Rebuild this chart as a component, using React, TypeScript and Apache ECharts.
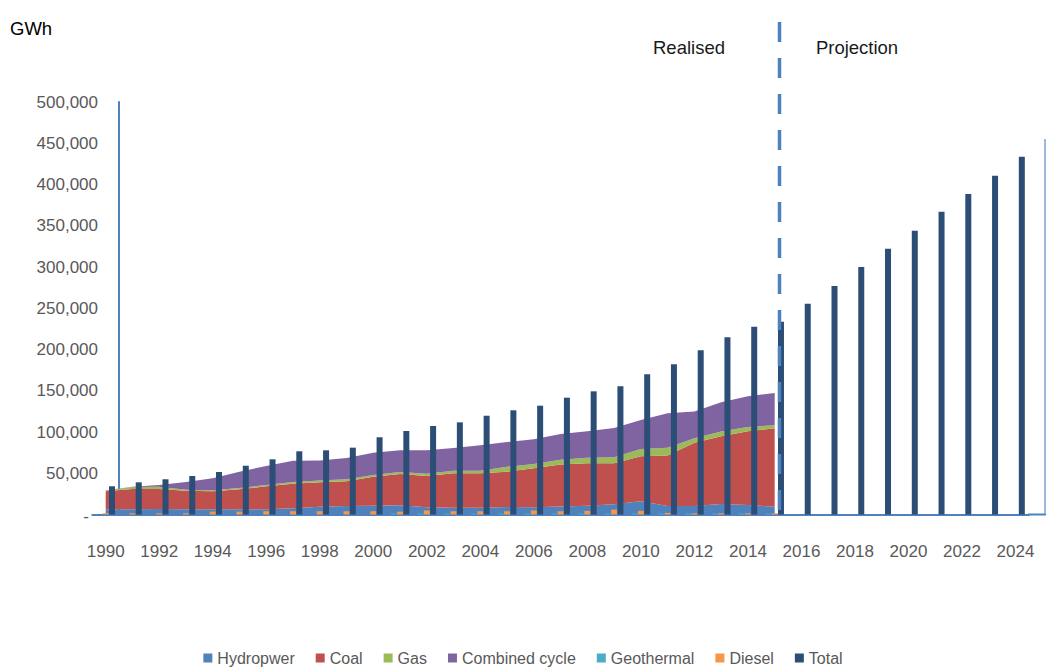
import React, { useEffect, useRef } from "react";
import * as echarts from "echarts";

// Years on the horizontal axis (realised 1990-2015, projection 2016-2024)
const years = [
  "1990", "1991", "1992", "1993", "1994", "1995", "1996", "1997", "1998", "1999",
  "2000", "2001", "2002", "2003", "2004", "2005", "2006", "2007", "2008", "2009",
  "2010", "2011", "2012", "2013", "2014", "2015", "2016", "2017", "2018", "2019",
  "2020", "2021", "2022", "2023", "2024",
];

// Realised generation by source, GWh (1990-2015)
const hydropower = [
  6500, 6500, 6800, 6500, 6300, 6500, 6500, 7500, 9500, 10300,
  10700, 11100, 8700, 8300, 8300, 9100, 8700, 9700, 10700, 12400,
  16000, 10300, 10300, 12700, 11500, 9500,
];
const coal = [
  21600, 24400, 24100, 22300, 21800, 24000, 27700, 29800, 29700, 29900,
  35100, 38000, 38000, 41600, 41600, 42800, 47300, 50900, 51300, 49600,
  54500, 61200, 76700, 82300, 89500, 95000,
];
const gas = [
  1200, 2300, 2600, 1200, 1200, 1600, 1600, 2100, 2000, 2500,
  2100, 2400, 2800, 3200, 3200, 6000, 5200, 5900, 6800, 7300,
  9000, 9500, 5500, 5500, 5000, 3800,
];
const combinedCycle = [
  0, 500, 2300, 9400, 14600, 19800, 23000, 25800, 24300, 25800,
  27000, 26300, 28300, 27500, 30800, 30000, 29900, 31000, 32000, 35500,
  35000, 41700, 32500, 35500, 37200, 39000,
];
const geothermal = [
  null, null, null, null, null, null, null, null, null, null,
  null, 1200, 1200, 1200, 1200, 1200, 1200, 1200, 1200, 1200,
  1200, 1200, 1200, 1200, 1200, 1200,
];
const diesel = [
  1500, 1500, 1500, 1500, 3500, 3500, 4000, 4000, 4000, 4000,
  4000, 3500, 5000, 4000, 4000, 4000, 5000, 4000, 4500, 6000,
  4500, 2000, 1500, 1500, 1500, 1500,
];

// Total generation, GWh (realised + projection)
const total = [
  34200, 39000, 42700, 46700, 51500, 59100, 66900, 76600, 77800, 81000,
  93600, 101200, 107300, 111700, 119700, 126300, 131900, 141600, 149300, 155400,
  169900, 182000, 199000, 214800, 227500, 233500, 255500, 277000, 300000, 322000,
  344000, 367000, 388500, 410500, 433500,
];

const FONT = "'Liberation Sans', Arial, sans-serif";
const AXIS_BLUE = "#4f81bd";
const LABEL_GREY = "#595959";

export default function App() {
  const ref = useRef<HTMLDivElement>(null);

  useEffect(() => {
    if (!ref.current) return;
    const chart = echarts.init(ref.current, null, { renderer: "svg" });

    const area = (name: string, data: (number | null)[], color: string) => ({
      name,
      type: "line",
      stack: "generation",
      data,
      showSymbol: false,
      symbol: "none",
      z: 2,
      lineStyle: { width: 0, color },
      itemStyle: { color },
      areaStyle: { color, opacity: 1 },
    });

    const bar = (name: string, data: (number | null)[], color: string) => ({
      name,
      type: "bar",
      data,
      barWidth: 6,
      barGap: "5%",
      z: 4,
      itemStyle: { color },
    });

    chart.setOption({
      animation: false,
      textStyle: { fontFamily: FONT },
      grid: {
        left: 92.3,
        right: 17.1,
        top: 102,
        bottom: 155.5,
        outerBoundsMode: "none",
      },
      legend: {
        top: 650,
        left: "center",
        padding: 0,
        icon: "rect",
        itemWidth: 9,
        itemHeight: 9,
        itemGap: 21,
        textStyle: { fontFamily: FONT, fontSize: 16, color: LABEL_GREY },
        data: ["Hydropwer", "Coal", "Gas", "Combined cycle", "Geothermal", "Diesel", "Total"],
      },
      xAxis: {
        type: "category",
        data: years,
        boundaryGap: true,
        axisLine: { lineStyle: { color: AXIS_BLUE, width: 2 } },
        axisTick: { show: false },
        axisLabel: {
          interval: 1,
          margin: 28,
          fontFamily: FONT,
          fontSize: 17,
          color: LABEL_GREY,
        },
      },
      yAxis: {
        type: "value",
        min: 0,
        max: 500000,
        interval: 50000,
        offset: -26.7,
        splitLine: { show: false },
        axisTick: { show: false },
        axisLine: { show: true, lineStyle: { color: AXIS_BLUE, width: 2 } },
        axisLabel: {
          margin: 21,
          fontFamily: FONT,
          fontSize: 17,
          color: LABEL_GREY,
          formatter: (v: number) =>
            v === 0 ? "{dash|-}" : v.toLocaleString("en-US"),
          rich: {
            dash: { fontFamily: FONT, fontSize: 17, color: LABEL_GREY, padding: [4, 9, 0, 0] },
          },
        },
      },
      series: [
        area("Hydropwer", hydropower, "#4f81bd"),
        area("Coal", coal, "#c0504d"),
        area("Gas", gas, "#9bbb59"),
        area("Combined cycle", combinedCycle, "#8064a2"),
        bar("Geothermal", geothermal, "#4bacc6"),
        bar("Diesel", diesel, "#f79646"),
        bar("Total", total, "#2c4d75"),
      ],
      graphic: [
        {
          type: "text",
          x: 10,
          y: 28,
          style: {
            text: "GWh",
            fontFamily: FONT,
            fontSize: 18.5,
            fill: "#000000",
            verticalAlign: "middle",
          },
        },
        {
          type: "text",
          x: 689,
          y: 47,
          style: {
            text: "Realised",
            fontFamily: FONT,
            fontSize: 18.5,
            fill: "#1a1a1a",
            align: "center",
            verticalAlign: "middle",
          },
        },
        {
          type: "text",
          x: 857,
          y: 47,
          style: {
            text: "Projection",
            fontFamily: FONT,
            fontSize: 18.5,
            fill: "#1a1a1a",
            align: "center",
            verticalAlign: "middle",
          },
        },
        {
          // divider between realised and projected years
          type: "line",
          shape: { x1: 779.5, y1: 22, x2: 779.5, y2: 514 },
          style: { stroke: AXIS_BLUE, lineWidth: 3.5, lineDash: [20, 16] },
          z: 10,
        },
        {
          type: "line",
          shape: { x1: 1028, y1: 514.5, x2: 1046, y2: 514.5 },
          style: { stroke: AXIS_BLUE, lineWidth: 2 },
        },
        {
          type: "line",
          shape: { x1: 1045, y1: 139, x2: 1045, y2: 514 },
          style: { stroke: "#7f9fcf", lineWidth: 1.5 },
        },
      ],
    });

    return () => chart.dispose();
  }, []);

  return (
    <div
      ref={ref}
      style={{ position: "fixed", left: 0, top: 0, width: 1046, height: 670, background: "#fff" }}
    />
  );
}
